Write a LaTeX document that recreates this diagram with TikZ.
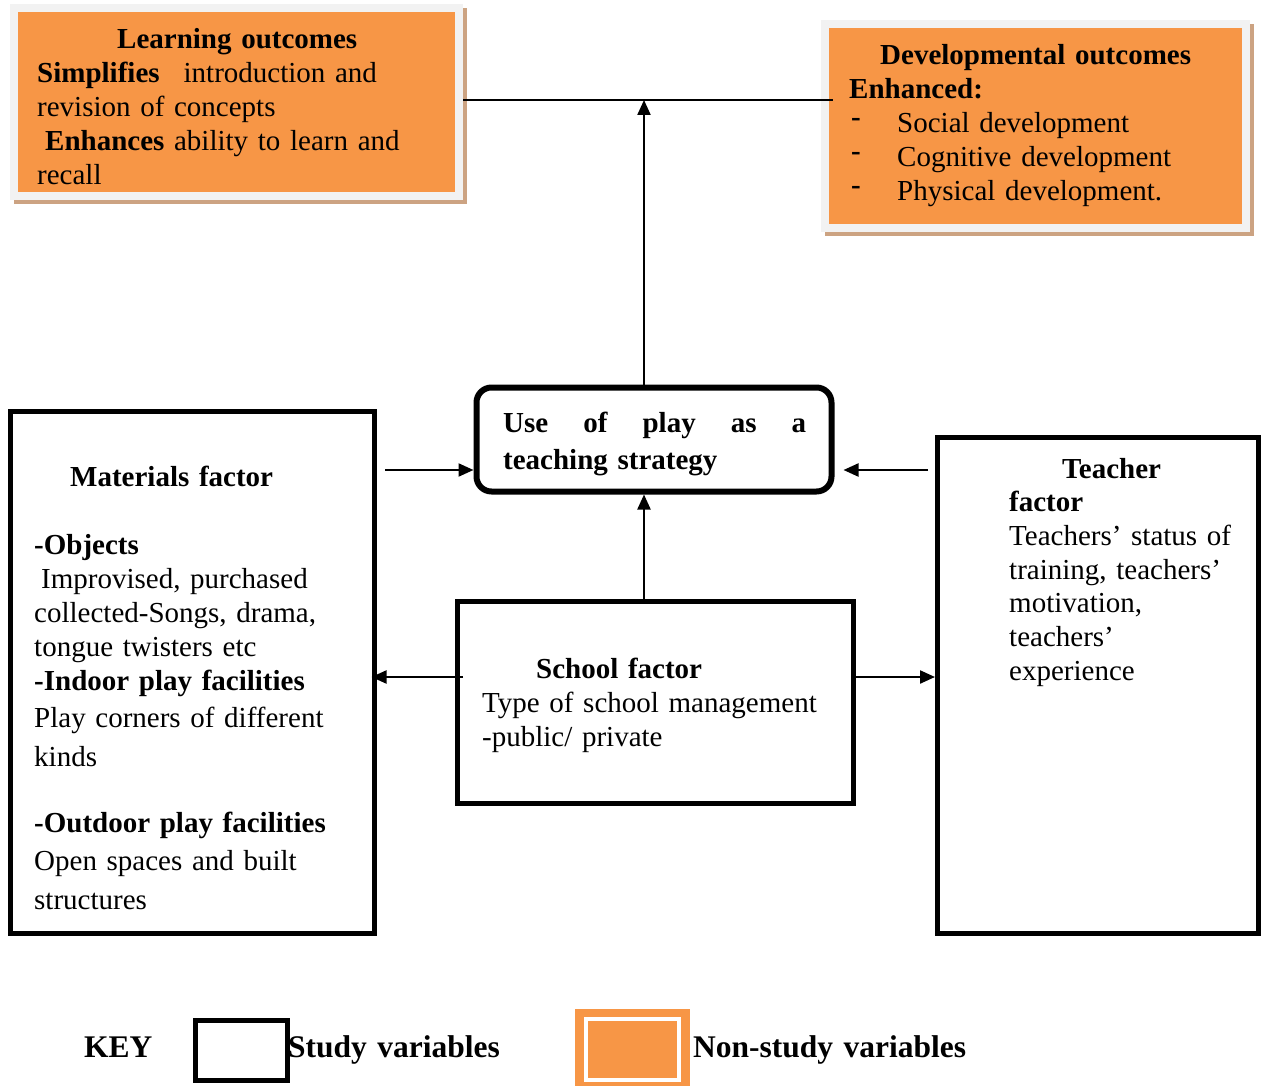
\documentclass[tikz,border=0pt]{standalone}
\usepackage{fontspec}
\setmainfont{Liberation Serif}
\usepackage{xcolor}
\usetikzlibrary{arrows.meta}
\definecolor{nonstudy}{RGB}{247,150,70}
\definecolor{framegray}{RGB}{242,242,242}
\definecolor{shadowtan}{RGB}{204,163,130}
\newcommand{\dashitem}{\makebox[48pt][l]{\hspace*{2pt}\raisebox{6pt}{\textbf{-}}}}

\begin{document}
\begin{tikzpicture}[x=1pt,y=-1pt,
  font=\fontsize{29}{34}\selectfont,
  study/.style={draw,line width=5pt,inner sep=0pt},
  outcome/.style={draw=framegray,fill=nonstudy,line width=8pt,inner sep=0pt,
    preaction={draw=shadowtan,fill=shadowtan,transform canvas={shift={(4pt,-4pt)}}}},
  txt/.style={anchor=base west,inner sep=0pt,align=left,text width=#1},
  txt/.default=400pt,
  keyfont/.style={font=\fontsize{31.5}{34}\selectfont\bfseries},
  arr/.style={line width=2.2pt,-{Triangle[length=15pt,width=13pt]}}]
\useasboundingbox (0,0) rectangle (1261,1086);
% outcomes
\node[outcome,minimum width=445pt,minimum height=187.5pt] (learn) at (236.5,102.25) {};
\node[outcome,minimum width=421pt,minimum height=204pt] (dev) at (1035.5,126) {};
\node[txt] (learntext) at (37,49) {\hspace*{80pt}\textbf{Learning outcomes}\\
  \textbf{Simplifies}\hspace{24pt}introduction and\\
  revision of concepts\\
  \hspace*{8pt}\textbf{Enhances} ability to learn and\\
  recall};
\node[txt] (devtext) at (849,65) {\hspace*{31pt}\textbf{Developmental outcomes}\\
  \textbf{Enhanced:}\\
  \dashitem Social development\\
  \dashitem Cognitive development\\
  \dashitem Physical development.};
% factors
\node[study,line width=6pt,rounded corners=15pt,minimum width=355pt,minimum height=104pt] (play) at (654,439.5) {};
\node[study,minimum width=363.5pt,minimum height=522pt] (materials) at (192.25,672.5) {};
\node[study,minimum width=321pt,minimum height=496pt] (teacher) at (1098,685.5) {};
\node[study,minimum width=396pt,minimum height=202pt] (school) at (655.5,702.5) {};
\node[txt] (playtext) at (503,432) {\textbf{\makebox[303pt]{Use\hfill of\hfill play\hfill as\hfill a}}\\[3pt]
  \textbf{teaching strategy}};
\node[txt] (materialstext) at (34,486) {\hspace*{36pt}\textbf{Materials factor}\\[34pt]
  \textbf{-Objects}\\
  \hspace*{7pt}Improvised, purchased\\
  collected-Songs, drama,\\
  tongue twisters etc\\
  \textbf{-Indoor play facilities}\\[3pt]
  Play corners of different\\[5pt]
  kinds\\[32pt]
  \textbf{-Outdoor play facilities}\\[4pt]
  Open spaces and built\\[5pt]
  structures};
\node[txt,font=\fontsize{29}{33.7}\selectfont] (teachertext) at (1009,478) {\hspace*{53pt}\textbf{Teacher}\\
  \textbf{factor}\\
  Teachers’ status of\\
  training, teachers’\\
  motivation,\\
  teachers’\\
  experience};
\node[txt] (schooltext) at (482,678) {\hspace*{54pt}\textbf{School factor}\\
  Type of school management\\
  -public/ private};
% arrows
\coordinate (top) at (644,100);
\coordinate (inL) at (385,470);
\coordinate (inR) at (928,470);
\coordinate (side) at (0,677);
\draw[line width=1.5pt] (learn.east |- top) -- ([xshift=12pt]dev.west |- top);
\draw[arr] (play.north -| top) -- (top);
\draw[arr] (school.north -| top) -- (play.south -| top);
\draw[arr] (inL) -- (inL -| play.west);
\draw[arr,shorten >=9pt] (inR) -- (inR -| play.east);
\draw[arr,shorten <=-8pt,shorten >=-5pt] (school.west |- side) -- (materials.east |- side);
\draw[arr] (school.east |- side) -- (teacher.west |- side);
% key
\node[txt,keyfont] (keylabel) at (84,1057) {KEY};
\node[study,minimum width=91.5pt,minimum height=59.5pt] (keystudy) at (241.25,1050.25) {};
\node[txt,keyfont] (studylabel) at (288,1057) {Study variables};
\node[draw=nonstudy,fill=nonstudy,double=white,double distance=4pt,line width=8.5pt,
  minimum width=93.5pt,minimum height=60.5pt,inner sep=0pt] (keynon) at (632.25,1049.25) {};
\node[txt,keyfont] (nonlabel) at (693,1057) {Non-study variables};
\end{tikzpicture}
\end{document}
